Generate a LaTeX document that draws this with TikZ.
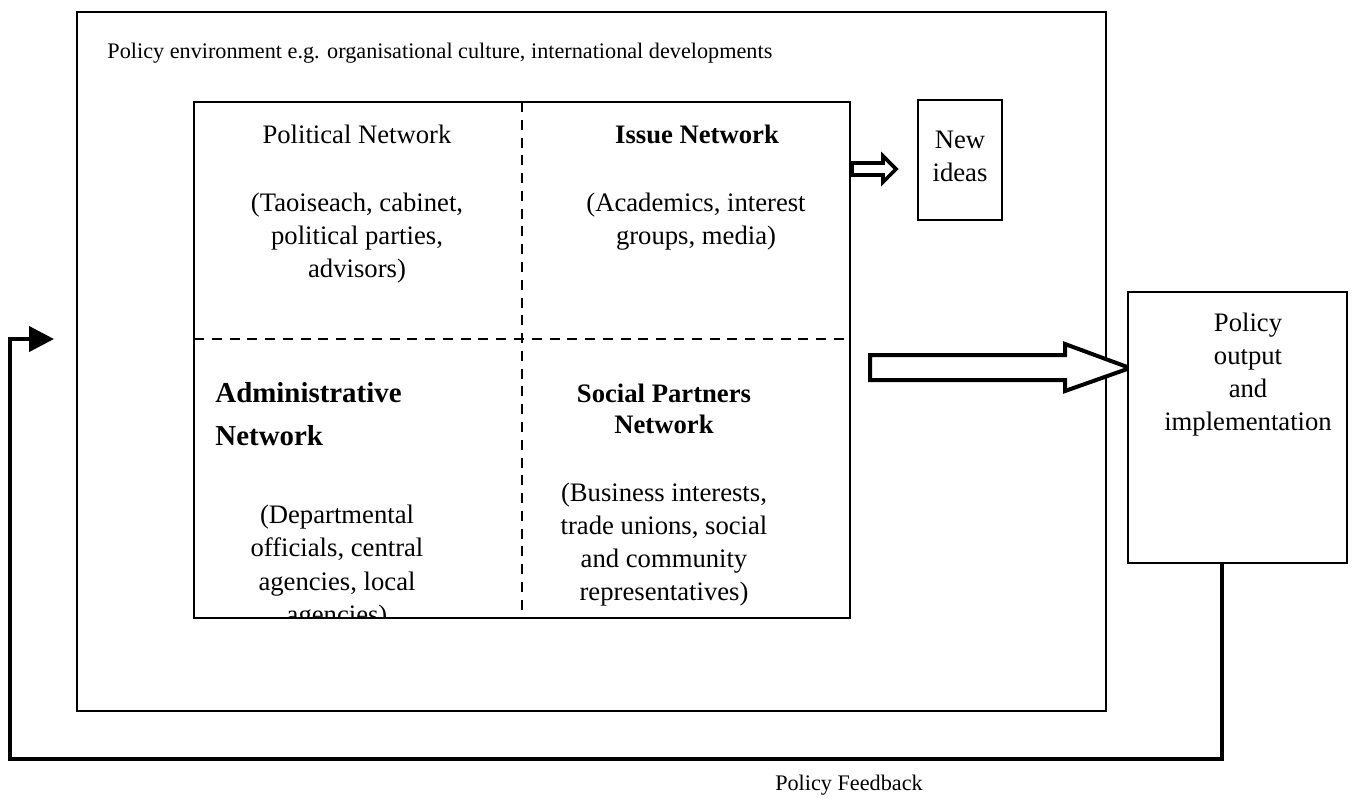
\documentclass[tikz,border=0pt]{standalone}
\usepackage{fontspec}
\setmainfont{Liberation Serif}
\usetikzlibrary{arrows.meta}

\tikzset{
  frame/.style={draw, line width=0.9pt},
  txt/.style={inner sep=0pt, align=center, font=\fontsize{12}{14.85}\selectfont},
  small/.style={inner sep=0pt, font=\fontsize{10}{12}\selectfont},
  divider/.style={line width=0.9pt, dash pattern=on 4.5pt off 3.5pt},
  hollow/.style={draw, line width=1.8pt, fill=white, line join=miter},
  feedback/.style={line width=1.9pt, line join=miter, -{Triangle[length=11.25pt, width=11.25pt]}}
}

\begin{document}
\begin{tikzpicture}[x=0.45pt, y=-0.45pt]
  \useasboundingbox (0,0) rectangle (1370,798);
  % policy environment
  \draw[frame] (77,12) rectangle (1106,711);
  \node[small, anchor=west] (envtext) at (107,53) {Policy environment e.g. organisational culture, international developments};

  % the four networks
  \coordinate (gridnw) at (194,102);
  \coordinate (gridse) at (850,618);
  \draw[frame, line width=1.1pt] (gridnw) rectangle (gridse);
  \draw[divider] (522,102) -- (522,618);
  \draw[divider] (194,339) -- (850,339);

  \node[txt] (polnet) at (357,134) {Political Network};
  \node[txt] (polmem) at (357,238) {(Taoiseach, cabinet,\\political parties,\\advisors)};
  \node[txt, font=\fontsize{12}{14.85}\bfseries] (issnet) at (697,134) {Issue Network};
  \node[txt] (issmem) at (696,221.5) {(Academics, interest\\groups, media)};
  \node[txt, align=left, anchor=west, font=\fontsize{13}{19.3}\bfseries] (admnet) at (215,414) {Administrative\\Network};
  \begin{scope}
    \clip (gridnw) rectangle (gridse);
    \node[txt, font=\fontsize{12}{15}\selectfont] (admmem) at (337,567) {(Departmental\\officials, central\\agencies, local\\agencies)};
  \end{scope}
  \node[txt, font=\fontsize{12}{14}\bfseries] (socnet) at (664,408.5) {Social Partners\\Network};
  \node[txt] (socmem) at (664,545) {(Business interests,\\trade unions, social\\and community\\representatives)};

  % new ideas
  \draw[hollow, line width=1.6pt] (852,163) -- (883,163) -- (883,156) -- (896,169) -- (883,182) -- (883,175) -- (852,175) -- cycle;
  \node[frame, minimum width=37.8pt, minimum height=54pt] (ideas) at (960,160) {};
  \node[txt] (ideastxt) at (960,156) {New\\ideas};

  % output
  \draw[hollow] (870,355) -- (1065,355) -- (1065,344) -- (1130,368) -- (1065,391) -- (1065,380) -- (870,380) -- cycle;
  \node[frame, fill=white, minimum width=98.55pt, minimum height=121.95pt] (policy) at (1237.5,427.5) {};
  \node[txt] (policytxt) at (1248,374.5) {Policy\\output\\and\\implementation};

  % feedback loop
  \coordinate (fbend) at (54,339);
  \draw[feedback] ([xshift=-7pt]policy.south) |- (10,759) -- (10,339) -- (fbend);
  \node[small] (fbtext) at (849,785) {Policy Feedback};
\end{tikzpicture}
\end{document}
